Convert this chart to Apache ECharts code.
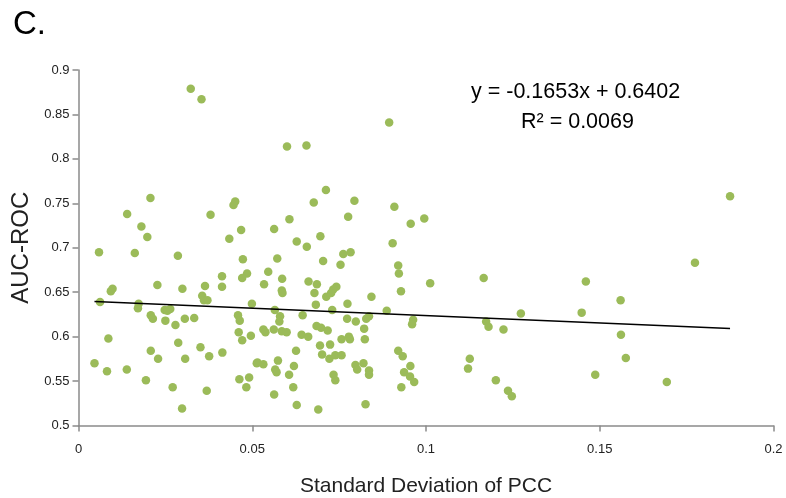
<!DOCTYPE html>
<html>
<head>
<meta charset="utf-8">
<script src="https://cdn.jsdelivr.net/npm/echarts@6/dist/echarts.min.js"></script>
<style>html,body{margin:0;padding:0;background:#fff;}#c{width:786px;height:498px;}</style>
</head>
<body>
<div id="c"></div>
<script>
var sdPCC = [0.0323,0.0354,0.0140,0.0207,0.0181,0.0198,0.0380,0.0451,0.0446,0.0468,0.0434,0.0059,0.0162,0.0286,0.0473,0.0485,0.0471,0.0413,0.0413,0.0364,0.0227,0.0299,0.0098,0.0093,0.0062,0.0356,0.0361,0.0371,0.0173,0.0171,0.0499,0.0208,0.0214,0.0248,0.0256,0.0264,0.0250,0.0279,0.0306,0.0333,0.0459,0.0464,0.0461,0.0471,0.0496,0.0086,0.0287,0.0351,0.0208,0.0229,0.0307,0.0376,0.0414,0.0046,0.0513,0.0082,0.0139,0.0194,0.0271,0.0369,0.0463,0.0491,0.0483,0.0298,0.0894,0.0600,0.0656,0.0712,0.0677,0.0794,0.0909,0.0607,0.0776,0.0563,0.0956,0.0995,0.0628,0.0696,0.0657,0.0904,0.0783,0.0762,0.0572,0.0704,0.0754,0.0920,0.0922,0.1012,0.0546,0.0586,0.0534,0.0662,0.0686,0.0585,0.0587,0.0679,0.0742,0.0733,0.0727,0.0713,0.0843,0.0928,0.0683,0.0774,0.0565,0.0580,0.0578,0.0645,0.0730,0.0887,0.0773,0.0798,0.0836,0.0828,0.0963,0.0960,0.0532,0.0538,0.0562,0.0585,0.0599,0.0642,0.0661,0.0685,0.0698,0.0717,0.0757,0.0778,0.0781,0.0822,0.0824,0.0626,0.0695,0.0701,0.0724,0.0722,0.0739,0.0757,0.0920,0.0933,0.0515,0.0532,0.0574,0.0566,0.0570,0.0620,0.0606,0.0618,0.0563,0.0734,0.0739,0.0797,0.0802,0.0820,0.0836,0.0836,0.0955,0.0937,0.0954,0.0966,0.0929,0.0628,0.0690,0.0826,0.1875,0.1774,0.1166,0.1460,0.1560,0.1273,0.1448,0.1173,0.1180,0.1223,0.1561,0.1126,0.1121,0.1575,0.1201,0.1236,0.1247,0.1487,0.1693];
var aucROC = [0.879,0.867,0.738,0.756,0.724,0.712,0.737,0.752,0.748,0.720,0.710,0.695,0.694,0.691,0.687,0.671,0.666,0.668,0.656,0.657,0.658,0.654,0.654,0.651,0.639,0.646,0.641,0.641,0.637,0.632,0.637,0.624,0.620,0.630,0.629,0.631,0.618,0.613,0.620,0.621,0.624,0.618,0.605,0.596,0.601,0.598,0.593,0.588,0.584,0.575,0.575,0.578,0.582,0.570,0.570,0.561,0.563,0.551,0.543,0.539,0.552,0.554,0.543,0.519,0.841,0.814,0.815,0.765,0.751,0.753,0.746,0.732,0.735,0.721,0.727,0.733,0.707,0.713,0.701,0.705,0.695,0.693,0.688,0.685,0.681,0.680,0.671,0.660,0.673,0.665,0.659,0.662,0.659,0.652,0.649,0.649,0.656,0.653,0.649,0.645,0.645,0.651,0.636,0.637,0.630,0.623,0.617,0.624,0.630,0.629,0.620,0.617,0.623,0.620,0.619,0.614,0.608,0.605,0.608,0.606,0.605,0.602,0.600,0.612,0.610,0.607,0.597,0.600,0.597,0.609,0.597,0.584,0.590,0.580,0.591,0.575,0.579,0.579,0.584,0.578,0.571,0.569,0.573,0.563,0.560,0.567,0.557,0.543,0.535,0.557,0.551,0.568,0.563,0.570,0.562,0.557,0.567,0.560,0.555,0.549,0.543,0.523,0.518,0.524,0.758,0.683,0.666,0.662,0.641,0.626,0.627,0.617,0.611,0.608,0.602,0.575,0.564,0.576,0.551,0.539,0.533,0.557,0.549];
var xTicks = [0, 0.05, 0.1, 0.15, 0.2];
var yTicks = [0.5, 0.55, 0.6, 0.65, 0.7, 0.75, 0.8, 0.85, 0.9];
var trendSlope = -0.1653;
var trendIntercept = 0.6402;
var equationText = 'y = -0.1653x + 0.6402';
var r2Text = 'R\u00B2 = 0.0069';

var pts = sdPCC.map(function (x, i) { return [x, aucROC[i]]; });
var xMin = Math.min.apply(null, sdPCC), xMax = Math.max.apply(null, sdPCC);
var trend = [[xMin, trendSlope * xMin + trendIntercept], [xMax, trendSlope * xMax + trendIntercept]];

var font = 'Liberation Sans, Arial, sans-serif';
var chart = echarts.init(document.getElementById('c'), null, {renderer: 'canvas'});
chart.setOption({
  animation: false,
  backgroundColor: '#fff',
  grid: {left: 78.5, right: 12.5, top: 70, bottom: 72.5, containLabel: false, outerBoundsMode: 'none'},
  xAxis: {
    type: 'value', min: xTicks[0], max: xTicks[xTicks.length - 1], interval: 0.05,
    name: 'Standard Deviation of PCC', nameLocation: 'middle', nameGap: 50,
    nameTextStyle: {fontFamily: font, fontSize: 21, color: '#222'},
    axisLine: {lineStyle: {color: '#8a8a8a', width: 1.5}},
    axisTick: {show: true, length: 6, lineStyle: {color: '#8a8a8a', width: 1.5}},
    axisLabel: {fontFamily: font, fontSize: 13, color: '#222', margin: 17,
      formatter: function (v) { return String(+v.toFixed(2)); }},
    splitLine: {show: false}
  },
  yAxis: {
    type: 'value', min: yTicks[0], max: yTicks[yTicks.length - 1], interval: 0.05,
    name: 'AUC-ROC', nameLocation: 'middle', nameGap: 43, nameRotate: 90,
    nameTextStyle: {fontFamily: font, fontSize: 24, color: '#222'},
    axisLine: {show: true, lineStyle: {color: '#8a8a8a', width: 1.5}},
    axisTick: {show: true, length: 6, lineStyle: {color: '#8a8a8a', width: 1.5}},
    axisLabel: {fontFamily: font, fontSize: 13, color: '#222', margin: 9,
      formatter: function (v) { return String(+v.toFixed(2)); }},
    splitLine: {show: false}
  },
  series: [
    {type: 'scatter', data: pts, symbolSize: 8.5,
     itemStyle: {color: '#9bbb59', opacity: 1}, z: 2},
    {type: 'line', data: trend, symbol: 'none', z: 3,
     lineStyle: {color: '#000', width: 1.5}}
  ],
  graphic: [
    {type: 'text', left: 13, top: 8, style: {text: 'C.', font: '33px ' + font, fill: '#000'}},
    {type: 'text', left: 471, top: 81, style: {text: equationText, font: '21.5px ' + font, fill: '#000'}},
    {type: 'text', left: 521, top: 111, style: {text: r2Text, font: '21.5px ' + font, fill: '#000'}}
  ]
});
</script>
</body>
</html>
